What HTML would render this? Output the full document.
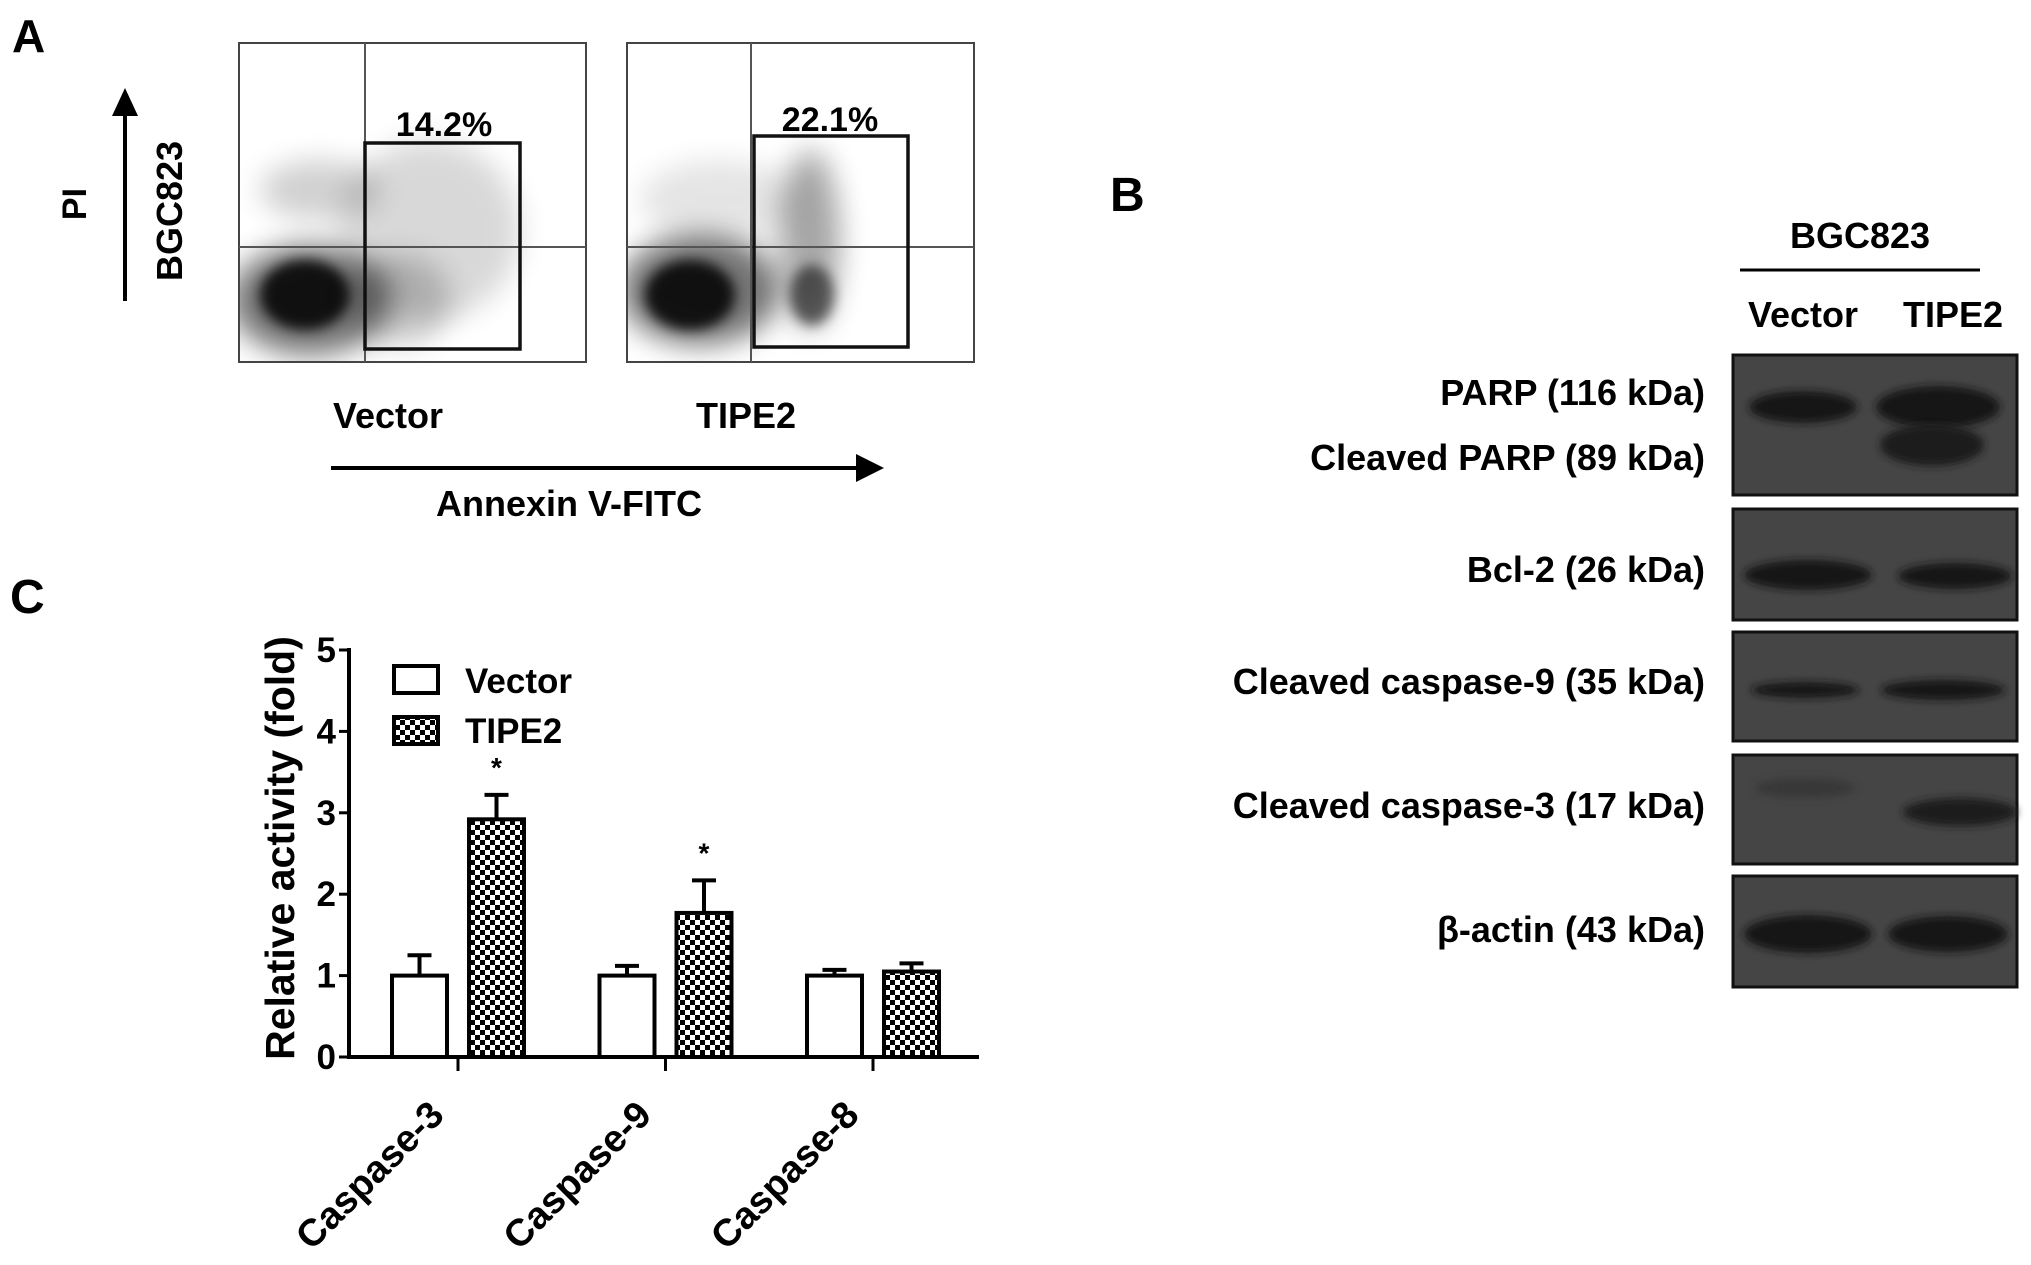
<!DOCTYPE html>
<html><head><meta charset="utf-8">
<style>
html,body{margin:0;padding:0;background:#fff;}
svg{display:block;font-family:"Liberation Sans",Arial,sans-serif;font-weight:bold;}
</style></head>
<body>
<svg id="fig" width="2031" height="1265" viewBox="0 0 2031 1265" xmlns="http://www.w3.org/2000/svg">
<defs>
  <filter id="blur6" x="-50%" y="-50%" width="200%" height="200%"><feGaussianBlur stdDeviation="6"/></filter>
  <filter id="blur14" x="-50%" y="-50%" width="200%" height="200%"><feGaussianBlur stdDeviation="14"/></filter>
  <filter id="blur4" x="-50%" y="-50%" width="200%" height="200%"><feGaussianBlur stdDeviation="4"/></filter>
  <pattern id="checker" width="10" height="10" patternUnits="userSpaceOnUse">
    <rect width="10" height="10" fill="#fff"/>
    <rect width="5" height="5" fill="#000"/>
    <rect x="5" y="5" width="5" height="5" fill="#000"/>
  </pattern>
  <clipPath id="clip1"><rect x="239" y="43" width="347" height="319"/></clipPath>
  <clipPath id="clip2"><rect x="627" y="43" width="347" height="319"/></clipPath>
</defs>

<!-- Panel A -->
<text x="12" y="52" font-size="46">A</text>
<g>
  <g clip-path="url(#clip1)">
    <ellipse cx="320" cy="190" rx="60" ry="30" fill="#000" opacity="0.18" filter="url(#blur14)"/>
    <ellipse cx="430" cy="230" rx="90" ry="90" fill="#000" opacity="0.15" filter="url(#blur14)"/>
    <ellipse cx="310" cy="300" rx="80" ry="55" fill="#000" opacity="0.55" filter="url(#blur14)"/>
    <ellipse cx="305" cy="295" rx="45" ry="35" fill="#000" opacity="0.85" filter="url(#blur6)"/>
    <ellipse cx="400" cy="300" rx="50" ry="45" fill="#000" opacity="0.2" filter="url(#blur14)"/>
  </g>
  <rect x="239" y="43" width="347" height="319" fill="none" stroke="#444" stroke-width="2"/>
  <line x1="239" y1="247" x2="586" y2="247" stroke="#555" stroke-width="2"/>
  <line x1="365" y1="43" x2="365" y2="362" stroke="#555" stroke-width="2"/>
  <rect x="365" y="143" width="155" height="206" fill="none" stroke="#111" stroke-width="3.5"/>
  <text x="444" y="136" font-size="34" text-anchor="middle">14.2%</text>
</g>
<g>
  <g clip-path="url(#clip2)">
    <ellipse cx="700" cy="290" rx="80" ry="55" fill="#000" opacity="0.55" filter="url(#blur14)"/>
    <ellipse cx="690" cy="295" rx="45" ry="35" fill="#000" opacity="0.85" filter="url(#blur6)"/>
    <ellipse cx="810" cy="240" rx="30" ry="90" fill="#000" opacity="0.35" filter="url(#blur14)"/>
    <ellipse cx="812" cy="295" rx="22" ry="30" fill="#000" opacity="0.55" filter="url(#blur6)"/>
    <ellipse cx="720" cy="200" rx="80" ry="40" fill="#000" opacity="0.1" filter="url(#blur14)"/>
  </g>
  <rect x="627" y="43" width="347" height="319" fill="none" stroke="#444" stroke-width="2"/>
  <line x1="627" y1="247" x2="974" y2="247" stroke="#555" stroke-width="2"/>
  <line x1="751" y1="43" x2="751" y2="362" stroke="#555" stroke-width="2"/>
  <rect x="754" y="136" width="154" height="211" fill="none" stroke="#111" stroke-width="3.5"/>
  <text x="830" y="131" font-size="34" text-anchor="middle">22.1%</text>
</g>
<text x="388" y="428" font-size="36" text-anchor="middle">Vector</text>
<text x="746" y="428" font-size="36" text-anchor="middle">TIPE2</text>
<g>
  <line x1="331" y1="468" x2="860" y2="468" stroke="#000" stroke-width="4"/>
  <polygon points="884,468 856,454 856,482" fill="#000"/>
</g>
<text x="569" y="516" font-size="36" text-anchor="middle">Annexin V-FITC</text>
<g>
  <line x1="125" y1="112" x2="125" y2="301" stroke="#000" stroke-width="4"/>
  <polygon points="125,88 112,116 138,116" fill="#000"/>
</g>
<text transform="translate(86,204) rotate(-90)" font-size="34" text-anchor="middle">PI</text>
<text transform="translate(182,211) rotate(-90)" font-size="36" text-anchor="middle">BGC823</text>

<!-- Panel B -->
<text x="1110" y="211" font-size="48">B</text>
<text x="1860" y="248" font-size="36" text-anchor="middle">BGC823</text>
<line x1="1740" y1="270" x2="1980" y2="270" stroke="#000" stroke-width="3"/>
<text x="1803" y="327" font-size="36" text-anchor="middle">Vector</text>
<text x="1953" y="327" font-size="36" text-anchor="middle">TIPE2</text>

<g font-size="36" text-anchor="end">
  <text x="1705" y="405">PARP (116 kDa)</text>
  <text x="1705" y="470">Cleaved PARP (89 kDa)</text>
  <text x="1705" y="582">Bcl-2 (26 kDa)</text>
  <text x="1705" y="694">Cleaved caspase-9 (35 kDa)</text>
  <text x="1705" y="818">Cleaved caspase-3 (17 kDa)</text>
  <text x="1705" y="942">β-actin (43 kDa)</text>
</g>

<g>
  <rect x="1733" y="355" width="284" height="140" fill="#454545" stroke="#111" stroke-width="3"/>
  <ellipse cx="1803" cy="407" rx="54" ry="16" fill="#161616" filter="url(#blur4)"/>
  <ellipse cx="1938" cy="407" rx="62" ry="21" fill="#161616" filter="url(#blur4)"/>
  <ellipse cx="1932" cy="445" rx="52" ry="21" fill="#1c1c1c" filter="url(#blur4)"/>
</g>
<g>
  <rect x="1733" y="509" width="284" height="111" fill="#454545" stroke="#111" stroke-width="3"/>
  <ellipse cx="1808" cy="575" rx="64" ry="15" fill="#161616" filter="url(#blur4)"/>
  <ellipse cx="1955" cy="576" rx="57" ry="13" fill="#161616" filter="url(#blur4)"/>
</g>
<g>
  <rect x="1733" y="632" width="284" height="109" fill="#454545" stroke="#111" stroke-width="3"/>
  <ellipse cx="1805" cy="690" rx="54" ry="8" fill="#161616" filter="url(#blur4)"/>
  <ellipse cx="1943" cy="690" rx="62" ry="10" fill="#161616" filter="url(#blur4)"/>
</g>
<g>
  <rect x="1733" y="755" width="284" height="109" fill="#454545" stroke="#111" stroke-width="3"/>
  <ellipse cx="1805" cy="788" rx="50" ry="10" fill="#383838" filter="url(#blur4)"/>
  <ellipse cx="1960" cy="812" rx="57" ry="14" fill="#1c1c1c" filter="url(#blur4)"/>
</g>
<g>
  <rect x="1733" y="876" width="284" height="111" fill="#454545" stroke="#111" stroke-width="3"/>
  <ellipse cx="1808" cy="934" rx="64" ry="19" fill="#141414" filter="url(#blur4)"/>
  <ellipse cx="1948" cy="934" rx="60" ry="18" fill="#141414" filter="url(#blur4)"/>
</g>

<!-- Panel C -->
<text x="10" y="613" font-size="48">C</text>
<g id="barchart"></g>
</svg>

<script>
const categories = ["Caspase-3", "Caspase-9", "Caspase-8"];
const vectorValues = [1.0, 1.0, 1.0];
const vectorErrors = [0.25, 0.12, 0.07];
const tipe2Values = [2.92, 1.77, 1.05];
const tipe2Errors = [0.30, 0.40, 0.10];
const tipe2Significant = [true, true, false];
const yTicks = [0, 1, 2, 3, 4, 5];

const NS = "http://www.w3.org/2000/svg";
const g = document.getElementById("barchart");
const X0 = 349, X1 = 979, Y0 = 1057, Y5 = 650, yMax = 5;
const groupCenters0 = 458, groupStep = 207.5, barW = 55, barGap = 22;
function yScale(v){ return Y0 - (v / yMax) * (Y0 - Y5); }
function xCenter(i){ return groupCenters0 + i * groupStep; }
function mk(tag, attrs, parent){
  const e = document.createElementNS(NS, tag);
  for (const k in attrs) e.setAttribute(k, attrs[k]);
  (parent || g).appendChild(e);
  return e;
}

const yAxis = mk("line", {x1:X0, y1:Y5-2, x2:X0, y2:Y0, stroke:"#000", "stroke-width":4});


const xAxis = mk("line", {x1:X0-2, y1:Y0, x2:X1, y2:Y0, stroke:"#000", "stroke-width":4});



yTicks.forEach(t => {
  const y = yScale(t);
  mk("line", {x1:X0-10, y1:y, x2:X0, y2:y, stroke:"#000", "stroke-width":3});
  const lbl = mk("text", {x:X0-13, y:y+12, "font-size":35, "text-anchor":"end"});
  lbl.textContent = t;
  
  
});

const yt = mk("text", {transform:"translate(294,848) rotate(-90)", "font-size":41, "text-anchor":"middle"});
yt.textContent = "Relative activity (fold)";



function errBar(cx, v, e){
  const yt = yScale(v + e);
  mk("line", {x1:cx, y1:yScale(v), x2:cx, y2:yt, stroke:"#000", "stroke-width":4});
  mk("line", {x1:cx-12, y1:yt, x2:cx+12, y2:yt, stroke:"#000", "stroke-width":4});
}

categories.forEach((c, i) => {
  const cx = xCenter(i);
  mk("line", {x1:cx, y1:Y0, x2:cx, y2:Y0+14, stroke:"#000", "stroke-width":3});
  const vx = cx - barGap/2 - barW;
  const tx = cx + barGap/2;
  errBar(vx + barW/2, vectorValues[i], vectorErrors[i]);
  errBar(tx + barW/2, tipe2Values[i], tipe2Errors[i]);
  const vb = mk("rect", {x:vx, y:yScale(vectorValues[i]), width:barW, height:Y0 - yScale(vectorValues[i]), fill:"#fff", stroke:"#000", "stroke-width":4});
  
  
  const tb = mk("rect", {x:tx, y:yScale(tipe2Values[i]), width:barW, height:Y0 - yScale(tipe2Values[i]), fill:"url(#checker)", stroke:"#000", "stroke-width":4});
  
  
  if (tipe2Significant[i]) {
    const s = mk("text", {x:tx + barW/2, y:yScale(tipe2Values[i] + tipe2Errors[i]) - 18, "font-size":28, "text-anchor":"middle"});
    s.textContent = "*";
    
    
  }
  const cl = mk("text", {transform:"translate(" + (cx - 12) + "," + (Y0 + 60) + ") rotate(-45)", "font-size":38, "text-anchor":"end"});
  cl.textContent = c;
  
  
});

const lv = mk("rect", {x:394, y:666, width:44, height:27, fill:"#fff", stroke:"#000", "stroke-width":4});


const lvt = mk("text", {x:465, y:693, "font-size":35});
lvt.textContent = "Vector";


const lt = mk("rect", {x:394, y:717, width:44, height:27, fill:"url(#checker)", stroke:"#000", "stroke-width":4});


const ltt = mk("text", {x:465, y:743, "font-size":35});
ltt.textContent = "TIPE2";


</script>
</body></html>
